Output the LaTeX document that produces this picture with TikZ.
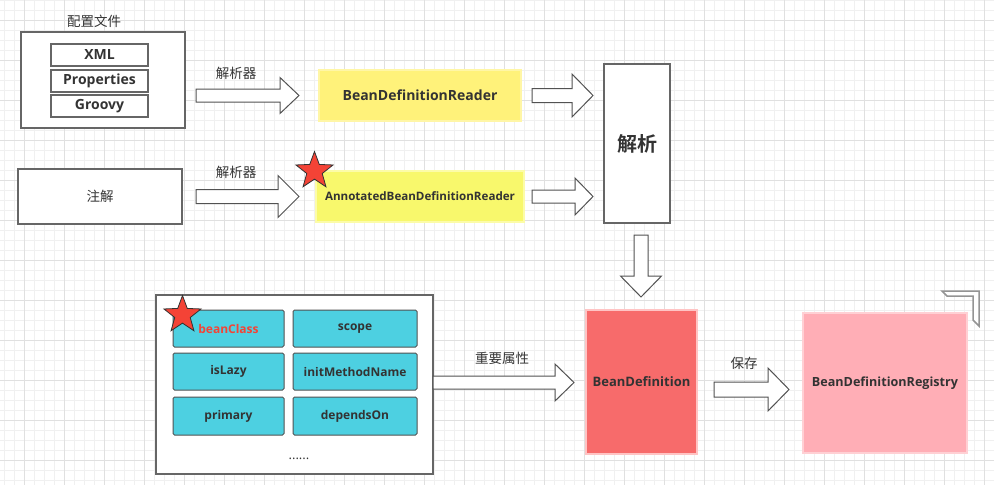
\documentclass[tikz,border=0pt]{standalone}
\usepackage{fontspec}
\setmainfont{Open Sans}
\newfontfamily\cjk{Noto Sans CJK SC}[BoldFont={Noto Sans CJK SC Bold}]
\usepackage{tikz}
\usetikzlibrary{calc, shapes.geometric}

\definecolor{ink}{HTML}{333333}
\definecolor{edge}{HTML}{666666}
\definecolor{minorgrid}{HTML}{F0F0F0}
\definecolor{majorgrid}{HTML}{E0E0E0}
\definecolor{readerfill}{HTML}{FFF27A}
\definecolor{readeredge}{HTML}{FFF6A6}
\definecolor{annofill}{HTML}{F8F86C}
\definecolor{annoedge}{HTML}{FCFCA8}
\definecolor{cellfill}{HTML}{4DD0E1}
\definecolor{bdfill}{HTML}{F76B6B}
\definecolor{bdedge}{HTML}{FFC4C4}
\definecolor{regfill}{HTML}{FFAEB6}
\definecolor{regedge}{HTML}{FFD0D4}
\definecolor{starred}{HTML}{F44336}

\tikzset{
  plainbox/.style={draw=edge, fill=white, line width=1.1pt, inner sep=0pt, text=ink},
  cell/.style={draw=edge!80!black, fill=cellfill, line width=1pt, rounded corners=1.5pt,
    inner sep=0pt, text=ink, font=\bfseries\fontsize{12}{14}\selectfont},
  latin/.style={font=\bfseries\fontsize{14}{16}\selectfont},
  cjklabel/.style={text=ink, font=\cjk\fontsize{13.5}{15}\selectfont},
  arrowbody/.style={draw=edge!80!black, fill=white, line width=1pt, line join=miter},
  redstar/.style={star, star points=5, star point ratio=2.4, minimum size=39pt,
    inner sep=0pt, draw=ink, fill=starred, line width=0.8pt},
}

% fat block arrow: tail, tip, shaft half width, head half width, head length
\newcommand{\fatarrow}[5]{%
  \coordinate (hb) at ($(#2)!#5pt!(#1)$);
  \filldraw[arrowbody] ($(#1)!#3pt!90:(#2)$) -- ($(hb)!#3pt!90:(#2)$)
    -- ($(hb)!#4pt!90:(#2)$) -- (#2) -- ($(hb)!#4pt!-90:(#2)$)
    -- ($(hb)!#3pt!-90:(#2)$) -- ($(#1)!#3pt!-90:(#2)$) -- cycle;
}

\begin{document}
\begin{tikzpicture}[x=1pt, y=-1pt]

	\useasboundingbox (0,0) rectangle (994,485);
	\fill[white] (0,0) rectangle (994,485);

	% background grid
	\foreach \x in {4,14,...,994} \draw[minorgrid, line width=1pt] (\x,0) -- (\x,485);
	\foreach \y in {0,10,...,480} \draw[minorgrid, line width=1pt] (0,\y) -- (994,\y);
	\foreach \x in {24,64,...,984} \draw[majorgrid, line width=1pt] (\x,0) -- (\x,485);
	\foreach \y in {20,60,...,460} \draw[majorgrid, line width=1pt] (0,\y) -- (994,\y);

	% sources
	\node[cjklabel] (cfgtitle) at (94,21) {配置文件};
	\node[plainbox, minimum width=164pt, minimum height=96pt] (cfg) at (103,80) {};
	\node[plainbox, latin, minimum width=97pt, minimum height=22pt] (xml) at (99.5,55) {XML};
	\node[plainbox, latin, minimum width=97pt, minimum height=22pt] (props) at (99.5,81) {Properties};
	\node[plainbox, latin, minimum width=97pt, minimum height=22pt] (groovy) at (99.5,106) {Groovy};
	\node[plainbox, minimum width=164pt, minimum height=55pt, font=\cjk\fontsize{13.5}{15}\selectfont] (anno) at (100,196.5) {注解};

	% readers
	\node[draw=readeredge, fill=readerfill, line width=1.5pt, minimum width=202pt, minimum height=51pt,
		text=ink, latin] (reader) at (420,95.5) {BeanDefinitionReader};
	\node[draw=annoedge, fill=annofill, line width=1.5pt, minimum width=208pt, minimum height=51pt,
		text=ink, font=\bfseries\fontsize{11.6}{14}\selectfont] (annoreader) at (420,196.5) {AnnotatedBeanDefinitionReader};
	\node[redstar] (star1) at (314.5,171) {};

	\node[plainbox, minimum width=66pt, minimum height=159pt, font=\cjk\bfseries\fontsize{20}{22}\selectfont] (parse) at (637,143.5) {解析};

	% attributes
	\node[plainbox, minimum width=277pt, minimum height=179pt] (attrs) at (294.5,384.5) {};
	\node[cell, minimum width=111pt, minimum height=37pt, text=starred] (beanclass) at (228.5,328.5) {beanClass};
	\node[cell, minimum width=124pt, minimum height=37pt] (scope) at (355,328.5) {scope};
	\node[cell, minimum width=111pt, minimum height=37pt] (islazy) at (228.5,371.5) {isLazy};
	\node[cell, minimum width=124pt, minimum height=37pt] (initmethod) at (355,371.5) {initMethodName};
	\node[cell, minimum width=111pt, minimum height=38pt] (primary) at (228.5,416) {primary};
	\node[cell, minimum width=124pt, minimum height=38pt] (dependson) at (355,416) {dependsOn};
	\node[text=ink, font=\fontsize{13}{15}\selectfont] (more) at (299,459) {......};
	\node[redstar] (star2) at (182.5,315) {};

	% definition and registry
	\node[draw=bdedge, fill=bdfill, line width=2pt, minimum width=111pt, minimum height=144pt,
		text=ink, font=\bfseries\fontsize{13}{15}\selectfont] (beandef) at (641.5,382) {BeanDefinition};
	\node[draw=regedge, fill=regfill, line width=2pt, minimum width=164pt, minimum height=140pt,
		text=ink, font=\bfseries\fontsize{12.6}{15}\selectfont] (registry) at (885,383) {BeanDefinitionRegistry};

	% corner mark
	\filldraw[draw=edge!70, fill=white, line width=1.5pt] (942,291) -- (979,291) -- (979,326)
		-- (973,320) -- (973,296) -- (947,296) -- cycle;

	% block arrows
	\coordinate (a1s) at (196,95.5);   \coordinate (a1e) at (299,95.5);
	\coordinate (a2s) at (196,196.5);  \coordinate (a2e) at (299,196.5);
	\coordinate (a3s) at (532,95.5);   \coordinate (a3e) at (593,95.5);
	\coordinate (a4s) at (532,196.5);  \coordinate (a4e) at (593,196.5);
	\coordinate (a5s) at (641,235);    \coordinate (a5e) at (641,297);
	\coordinate (a6s) at (433,382.5);  \coordinate (a6e) at (574,382.5);
	\coordinate (a7s) at (714,389.5);  \coordinate (a7e) at (789,389.5);

	\fatarrow{a1s}{a1e}{6.5}{18}{19}
	\fatarrow{a2s}{a2e}{7}{21}{21}
	\fatarrow{a3s}{a3e}{7}{21.5}{21}
	\fatarrow{a4s}{a4e}{6.5}{18.5}{18}
	\fatarrow{a5s}{a5e}{7}{20.5}{21}
	\fatarrow{a6s}{a6e}{6.5}{18.5}{19}
	\fatarrow{a7s}{a7e}{7.5}{21.5}{21}

	\node[cjklabel] (lbl1) at (236,73) {解析器};
	\node[cjklabel] (lbl2) at (236,172) {解析器};
	\node[cjklabel] (lbl3) at (502,358) {重要属性};
	\node[cjklabel] (lbl4) at (744,363) {保存};

\end{tikzpicture}
\end{document}
